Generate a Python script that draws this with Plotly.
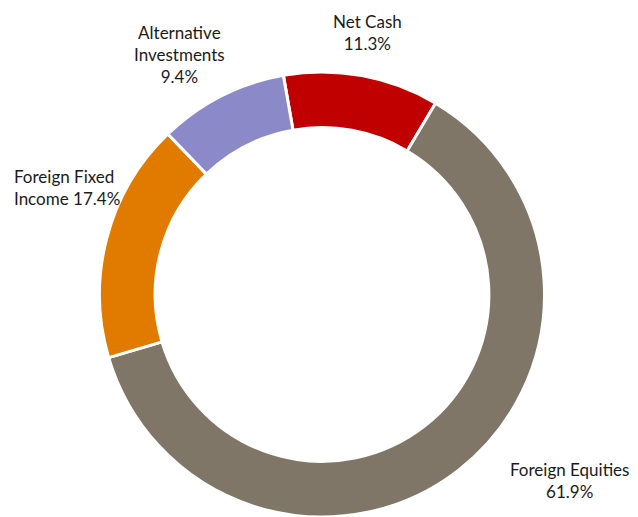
import plotly.graph_objects as go

categories = ["Net Cash", "Foreign Equities", "Foreign Fixed Income", "Alternative Investments"]
values = [11.3, 61.9, 17.4, 9.4]
label_texts = ["Net Cash<br>11.3%", "Foreign Equities<br>61.9%", "Foreign Fixed<br>Income 17.4%",
               "Alternative<br>Investments<br>9.4%"]
colors = ["#C00000", "#7F7667", "#E07B00", "#8B89C7"]

# page body has an 8px margin; work in screenshot pixels and shift
OFF = 8
W, H = 638 - OFF, 517 - OFF
cx, top, R = 322 - OFF, 72 - OFF, 222.5
bottom = top + 2 * R

fig = go.Figure(go.Pie(
    labels=categories, values=values, sort=False, direction="clockwise",
    rotation=-10, hole=0.75, textinfo="none", hoverinfo="label+percent",
    marker=dict(colors=colors, line=dict(color="white", width=3)),
    domain=dict(x=[(cx - R) / W, (cx + R) / W], y=[max(0, 1 - bottom / H), 1 - top / H]),
))

pos = [(367, 32.5, "center"), (569, 480.5, "center"), (12, 187.5, "left"), (180, 54, "center")]
for txt, (x, y, al) in zip(label_texts, pos):
    fig.add_annotation(x=(x - OFF) / W, y=1 - (y - OFF) / H, xref="paper", yref="paper", text=txt,
                       showarrow=False, xanchor="left" if al == "left" else "center",
                       yanchor="middle", align=al,
                       font=dict(family="Lato, 'Open Sans', sans-serif", size=17, color="#1a1a1a"))

fig.update_layout(width=W, height=H, margin=dict(l=0, r=0, t=0, b=0), showlegend=False,
                  paper_bgcolor="white", plot_bgcolor="white")
fig.write_html("out.html")
